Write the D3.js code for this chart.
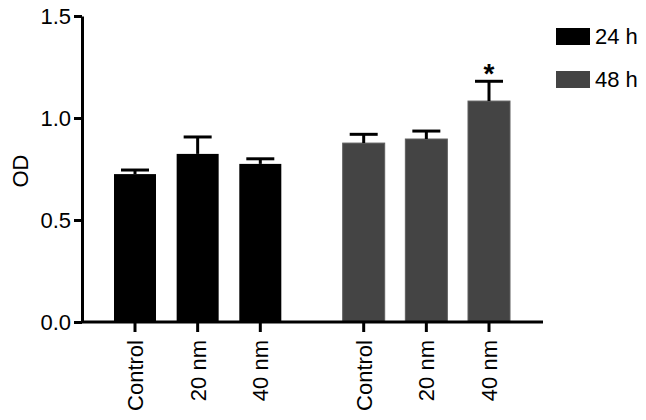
<!DOCTYPE html>
<html>
<head>
<meta charset="utf-8">
<title>OD at 24 h and 48 h</title>
<style>
  body { margin: 0; background: #fff; }
  svg { display: block; font-family: 'Liberation Sans', Arial, sans-serif; }
  .axis path, .axis line { stroke: #000; stroke-width: 3px; }
  .axis text { font-size: 22px; fill: #000; }
</style>
</head>
<body>
<svg width="646" height="420"></svg>
<script src="https://cdn.jsdelivr.net/npm/d3@7"></script>
<script>
// data
let groups = ["24 h", "48 h"];
let conditions = ["Control", "20 nm", "40 nm"];
let means24 = [0.725, 0.824, 0.775];
let errs24 = [0.02, 0.083, 0.025];
let means48 = [0.877, 0.897, 1.083];
let errs48 = [0.043, 0.039, 0.097];
let yTicks = [0.0, 0.5, 1.0, 1.5];
let colors = ["#000000", "#444444"];

let svg = d3.select("svg");

let data = [];
[means24, means48].forEach((means, g) => {
  means.forEach((m, i) => {
    data.push({
      group: groups[g],
      g: g,
      cond: conditions[i],
      mean: m,
      err: g == 0 ? errs24[i] : errs48[i],
      pos: g * 3.65 + i
    });
  });
});

let x = d3.scaleLinear()
  .domain([0, 5.65])
  .range([135, 489]);

let y = d3.scaleLinear()
  .domain([0, 1.5])
  .range([322, 16]);

let barW = 42;
let capW = 28;

// bars
svg.selectAll("rect.bar")
  .data(data)
  .join("rect")
    .attr("class", "bar")
    .attr("x", d => x(d.pos) - barW / 2)
    .attr("width", barW)
    .attr("y", d => y(d.mean))
    .attr("height", d => y(0) - y(d.mean))
    .attr("fill", d => colors[d.g])
    .attr("stroke", d => d.g == 1 ? "#5e5e5e" : "none")
    .attr("stroke-width", 1);

// error bars (upper only)
svg.selectAll("line.err")
  .data(data)
  .join("line")
    .attr("class", "err")
    .attr("x1", d => x(d.pos))
    .attr("x2", d => x(d.pos))
    .attr("y1", d => y(d.mean))
    .attr("y2", d => y(d.mean + d.err))
    .attr("stroke", "#000")
    .attr("stroke-width", 3);

svg.selectAll("line.cap")
  .data(data)
  .join("line")
    .attr("class", "cap")
    .attr("x1", d => x(d.pos) - capW / 2)
    .attr("x2", d => x(d.pos) + capW / 2)
    .attr("y1", d => y(d.mean + d.err))
    .attr("y2", d => y(d.mean + d.err))
    .attr("stroke", "#000")
    .attr("stroke-width", 3);

// significance star
let starBar = data[5];
svg.append("text")
  .attr("x", x(starBar.pos))
  .attr("y", y(starBar.mean + starBar.err) + 2)
  .attr("text-anchor", "middle")
  .style("font-size", "28px")
  .style("font-weight", "bold")
  .text("*");

// y axis
let yAxis = svg.append("g")
  .attr("class", "axis")
  .attr("transform", "translate(82,0)")
  .call(d3.axisLeft(y)
    .tickValues(yTicks)
    .tickSize(8)
    .tickSizeOuter(0)
    .tickPadding(3)
    .tickFormat(d3.format(".1f")));

// x axis
let xAxis = svg.append("g")
  .attr("class", "axis")
  .attr("transform", `translate(0,${y(0)})`);

xAxis.append("line")
  .attr("x1", 82)
  .attr("x2", 543)
  .attr("y1", 0)
  .attr("y2", 0);

let xt = xAxis.selectAll("g.tick")
  .data(data)
  .join("g")
    .attr("class", "tick")
    .attr("transform", d => `translate(${x(d.pos)},0)`);

xt.append("line")
  .attr("y1", 0)
  .attr("y2", 10);

xt.append("text")
  .attr("transform", "rotate(-90)")
  .attr("x", -18)
  .attr("y", 8)
  .attr("text-anchor", "end")
  .text(d => d.cond);

// y label
svg.append("text")
  .attr("transform", `translate(28,${y(0.74)}) rotate(-90)`)
  .attr("text-anchor", "middle")
  .style("font-size", "22px")
  .text("OD");

// legend
let legend = svg.selectAll("g.legend")
  .data(groups)
  .join("g")
    .attr("class", "legend")
    .attr("transform", (d, i) => `translate(556,${28 + i * 43})`);

legend.append("rect")
  .attr("width", 34)
  .attr("height", 17)
  .attr("fill", (d, i) => colors[i]);

legend.append("text")
  .attr("x", 39)
  .attr("y", 16)
  .style("font-size", "22px")
  .text(d => d);
</script>
</body>
</html>
